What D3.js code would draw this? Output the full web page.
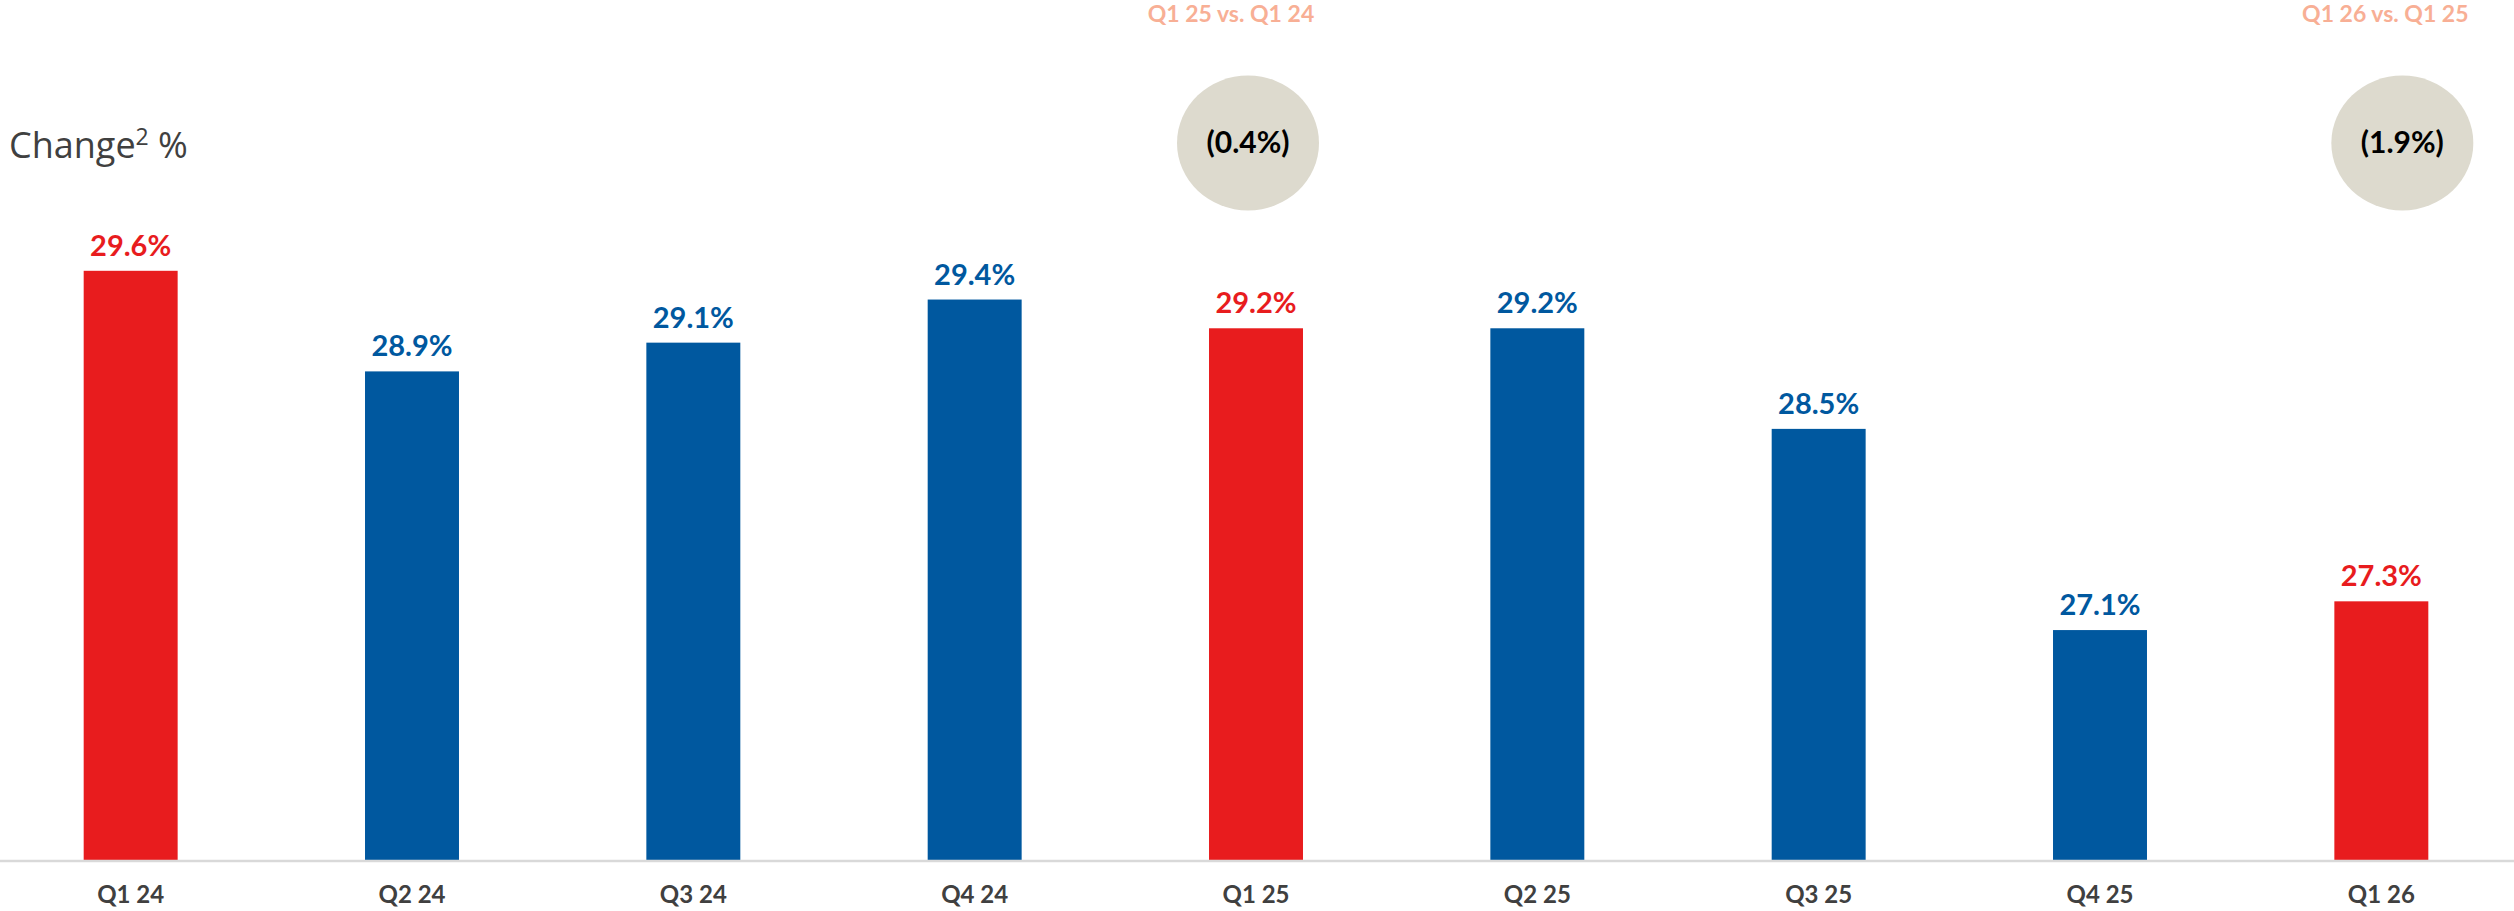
<!DOCTYPE html>
<html>
<head>
<meta charset="utf-8">
<script src="https://cdn.jsdelivr.net/npm/d3@7"></script>
<style>
  html, body { margin: 0; padding: 0; background: #fff; }
  svg { display: block; }
</style>
</head>
<body>
<svg id="chart" width="2514" height="911"></svg>
<script>
// Quarterly change (%) by period
const categories = ["Q1 24", "Q2 24", "Q3 24", "Q4 24", "Q1 25", "Q2 25", "Q3 25", "Q4 25", "Q1 26"];
const values = [29.6, 28.9, 29.1, 29.4, 29.2, 29.2, 28.5, 27.1, 27.3];
const highlighted = ["Q1 24", "Q1 25", "Q1 26"];

// Year-over-year comparison bubbles
const comparisonAt = ["Q1 25", "Q1 26"];
const comparisonTitles = ["Q1 25 vs. Q1 24", "Q1 26 vs. Q1 25"];
const comparisonValues = ["(0.4%)", "(1.9%)"];

const RED = "#E81C1E";
const BLUE = "#00589F";
const AXIS_GRAY = "#D9D9D9";
const TEXT_GRAY = "#404040";
const SALMON = "#F8AF95";
const BUBBLE = "#DDDACE";

const svg = d3.select("#chart");
const W = 2514, H = 911;

const x = d3.scaleBand()
  .domain(categories)
  .range([-10, 2522])
  .paddingInner(0.666)
  .paddingOuter(0.333);

const y = d3.scaleLinear()
  .domain([25.5, 29.6])
  .range([860, 270.8]);

const colorOf = c => highlighted.includes(c) ? RED : BLUE;

// Title
const title = svg.append("text")
  .attr("x", 9)
  .attr("y", 158)
  .attr("font-family", "'Open Sans', sans-serif")
  .attr("font-size", 36)
  .attr("fill", TEXT_GRAY);
title.append("tspan").text("Change");
title.append("tspan").attr("font-size", 23).attr("dy", -13).text("2");
title.append("tspan").attr("dy", 13).text(" %");

// Bars
svg.append("g")
  .selectAll("rect")
  .data(categories)
  .join("rect")
  .attr("x", c => x(c))
  .attr("width", x.bandwidth())
  .attr("y", (c, i) => y(values[i]))
  .attr("height", (c, i) => y(25.5) - y(values[i]))
  .attr("fill", colorOf);

// Value labels
svg.append("g")
  .selectAll("text")
  .data(categories)
  .join("text")
  .attr("x", c => x(c) + x.bandwidth() / 2)
  .attr("y", (c, i) => y(values[i]) - 15)
  .attr("text-anchor", "middle")
  .attr("font-family", "Lato, sans-serif")
  .attr("font-weight", 700)
  .attr("font-size", 29)
  .attr("fill", colorOf)
  .text((c, i) => values[i].toFixed(1) + "%");

// Baseline axis with category labels
const axis = d3.axisBottom(x).tickSize(0).tickPadding(26);
const axisG = svg.append("g")
  .attr("transform", `translate(0, ${y(25.5)})`)
  .call(axis);
axisG.select(".domain").remove();
axisG.insert("line", ":first-child")
  .attr("x1", 0).attr("x2", W)
  .attr("y1", 1).attr("y2", 1)
  .attr("stroke", AXIS_GRAY)
  .attr("stroke-width", 2.5);
axisG.selectAll(".tick text")
  .attr("font-family", "Lato, sans-serif")
  .attr("font-weight", 700)
  .attr("font-size", 24)
  .attr("fill", TEXT_GRAY);

// Comparison bubbles
const bubbleDx = [-8, 21];
const titleDx = [-25, 4];
const bubbles = svg.append("g")
  .selectAll("g")
  .data(comparisonAt)
  .join("g");

bubbles.append("text")
  .attr("x", (c, i) => x(c) + x.bandwidth() / 2 + titleDx[i])
  .attr("y", 22)
  .attr("text-anchor", "middle")
  .attr("font-family", "Lato, sans-serif")
  .attr("font-weight", 700)
  .attr("font-size", 23)
  .attr("fill", SALMON)
  .text((c, i) => comparisonTitles[i]);

bubbles.append("ellipse")
  .attr("cx", (c, i) => x(c) + x.bandwidth() / 2 + bubbleDx[i])
  .attr("cy", 143)
  .attr("rx", 71)
  .attr("ry", 67.5)
  .attr("fill", BUBBLE);

bubbles.append("text")
  .attr("x", (c, i) => x(c) + x.bandwidth() / 2 + bubbleDx[i])
  .attr("y", 153)
  .attr("text-anchor", "middle")
  .attr("font-family", "Lato, sans-serif")
  .attr("font-weight", 700)
  .attr("font-size", 30)
  .attr("fill", "#000")
  .text((c, i) => comparisonValues[i]);
</script>
</body>
</html>
